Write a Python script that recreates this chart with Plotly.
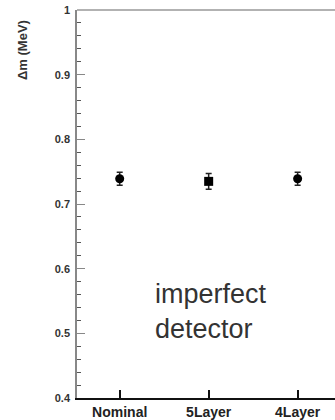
import plotly.graph_objects as go

# Mass difference per detector configuration
configs = ["Nominal", "5Layer", "4Layer"]
delta_m = [0.739, 0.735, 0.739]
delta_m_err = [0.010, 0.012, 0.010]
symbols = ["circle", "square", "circle"]

W, H = 335, 420
L, R, T, B = 77, 0, 10, 22
pw = W - L - R
ph = H - T - B

fig = go.Figure()
fig.add_trace(go.Scatter(
    x=list(range(len(configs))),
    y=delta_m,
    mode="markers",
    marker=dict(color="black", size=9, symbol=symbols),
    error_y=dict(type="data", array=delta_m_err, color="#222", thickness=1.5, width=3),
    showlegend=False,
))

fig.update_layout(
    width=W, height=H,
    margin=dict(l=L, r=R, t=T, b=B, pad=0),
    paper_bgcolor="white", plot_bgcolor="white",
    font=dict(family="Liberation Sans, Arial, sans-serif", color="#222"),
    xaxis=dict(
        range=[-0.48, 2.42],
        tickvals=list(range(len(configs))),
        ticktext=configs,
        ticks="inside", ticklen=8, tickwidth=1.5, tickcolor="#111",
        showline=True, linecolor="#111", linewidth=1.5,
        showgrid=False, zeroline=False,
        tickfont=dict(size=14, weight="bold", color="#222"),
        fixedrange=True,
    ),
    yaxis=dict(
        range=[0.4, 1.0],
        dtick=0.1, tick0=0.4,
        ticks="inside", ticklen=8, tickwidth=1.2, tickcolor="#888",
        minor=dict(dtick=0.02, ticks="inside", ticklen=4, tickcolor="#555", tickwidth=1.3),
        showline=True, linecolor="#888", linewidth=1.5,
        showgrid=False, zeroline=False,
        tickfont=dict(size=11, weight="bold", color="#333"),
        ticklabelstandoff=3,
        fixedrange=True,
    ),
)

# Upper frame edge
fig.add_shape(type="line", xref="paper", yref="paper", x0=0, x1=1, y0=1, y1=1,
              line=dict(color="#999", width=1.5))

# Axis title placed near the top of the vertical axis
fig.add_annotation(
    text="Δm (MeV)", textangle=-90,
    xref="paper", yref="paper",
    x=(23 - L) / pw, y=1 - (50 - T) / ph,
    xanchor="center", yanchor="middle", showarrow=False,
    font=dict(size=13, weight="bold", color="#333"),
)

fig.add_annotation(
    text="imperfect<br>detector", align="left",
    xref="paper", yref="paper",
    x=(153 - L) / pw, y=1 - (311 - T) / ph,
    xanchor="left", yanchor="middle", showarrow=False,
    font=dict(size=27, color="#333"),
)

fig.write_html("out.html")
